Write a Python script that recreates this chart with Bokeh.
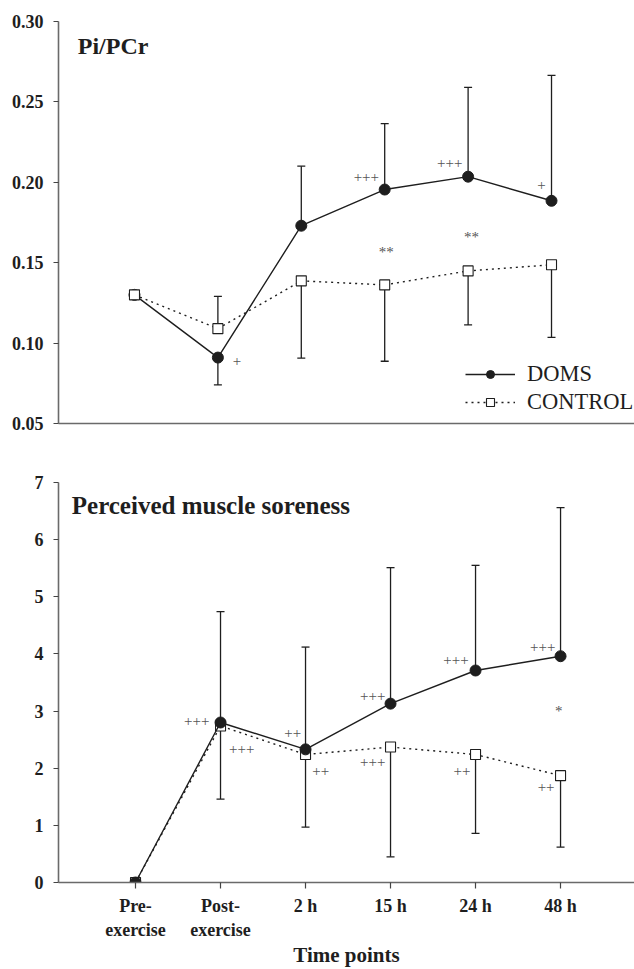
from bokeh.plotting import figure
from bokeh.models import (Range1d, FixedTicker, Whisker, TeeHead, Legend, LegendItem,
                          ColumnDataSource, PrintfTickFormatter)
from bokeh.layouts import column
from bokeh.core.properties import value
from bokeh.embed import file_html
from bokeh.resources import INLINE

# ---------------- data ----------------
time_labels = ["Pre-\nexercise", "Post-\nexercise", "2 h", "15 h", "24 h", "48 h"]

pcr_doms = [0.130, 0.091, 0.173, 0.1955, 0.2035, 0.1885]
pcr_doms_sd = [0.0, 0.017, 0.037, 0.041, 0.0555, 0.078]
pcr_doms_dir = [1, -1, 1, 1, 1, 1]
pcr_ctrl = [0.130, 0.109, 0.1387, 0.1362, 0.1449, 0.1487]
pcr_ctrl_sd = [0.0, 0.020, 0.048, 0.0475, 0.0336, 0.0451]
pcr_ctrl_dir = [-1, 1, -1, -1, -1, -1]

sore_doms = [0.0, 2.80, 2.33, 3.13, 3.71, 3.96]
sore_doms_sd = [0.0, 1.94, 1.79, 2.38, 1.84, 2.60]
sore_doms_dir = [1, 1, 1, 1, 1, 1]
sore_ctrl = [0.0, 2.74, 2.24, 2.37, 2.24, 1.87]
sore_ctrl_sd = [0.0, 1.28, 1.27, 1.92, 1.38, 1.25]
sore_ctrl_dir = [-1, -1, -1, -1, -1, -1]

pcr_marks = ["+", "+++", "+++", "+", "**", "**"]
pcr_marks_x = [2.23, 3.78, 4.78, 5.88, 4.02, 5.04]
pcr_marks_y = [0.0887, 0.2032, 0.2117, 0.1984, 0.1565, 0.1658]

sore_marks = ["+++", "+++", "++", "++", "+++", "+++", "+++", "++", "+++", "++", "*"]
sore_marks_x = [1.72, 2.25, 2.85, 3.18, 3.79, 3.79, 4.77, 4.84, 5.79, 5.83, 5.98]
sore_marks_y = [2.83, 2.34, 2.61, 1.96, 3.26, 2.11, 3.90, 1.96, 4.13, 1.67, 3.00]

pcr_yticks = [0.05, 0.10, 0.15, 0.20, 0.25, 0.30]
sore_yticks = [0, 1, 2, 3, 4, 5, 6, 7]

FONT = "Liberation Serif"
INK = "#1e1e1e"
xs = [i + 1 for i in range(len(time_labels))]


def style_axes(p):
    for ax in (p.xaxis[0], p.yaxis[0]):
        ax.axis_line_color = "#6a6a6a"
        ax.axis_line_width = 1.6
        ax.major_tick_line_color = "#444444"
        ax.major_tick_line_width = 1.2
        ax.major_tick_out = 5
        ax.major_tick_in = 0
        ax.minor_tick_line_color = None
        ax.major_label_text_font = FONT
        ax.major_label_text_font_style = "bold"
        ax.major_label_text_font_size = "18px"
        ax.major_label_text_color = INK
    p.yaxis[0].major_label_standoff = 10
    p.grid.visible = False
    p.outline_line_color = None


def add_errors(p, means, sds, dirs):
    up = [(x, m, m + s) for x, m, s, d in zip(xs, means, sds, dirs) if s > 0 and d > 0]
    dn = [(x, m - s, m) for x, m, s, d in zip(xs, means, sds, dirs) if s > 0 and d < 0]
    if up:
        src = ColumnDataSource(dict(x=[u[0] for u in up], lo=[u[1] for u in up], hi=[u[2] for u in up]))
        p.add_layout(Whisker(source=src, base="x", lower="lo", upper="hi", line_color=INK, line_width=1.3,
                             upper_head=TeeHead(size=8, line_color=INK, line_width=1.3), lower_head=None))
    if dn:
        src = ColumnDataSource(dict(x=[u[0] for u in dn], lo=[u[1] for u in dn], hi=[u[2] for u in dn]))
        p.add_layout(Whisker(source=src, base="x", lower="lo", upper="hi", line_color=INK, line_width=1.3,
                             lower_head=TeeHead(size=8, line_color=INK, line_width=1.3), upper_head=None))


def draw_doms(p, means):
    l = p.line(xs, means, line_color=INK, line_width=1.4)
    c = p.scatter(xs, means, marker="circle", size=11, fill_color=INK, line_color=INK)
    return l, c


def draw_ctrl(p, means):
    l = p.line(xs, means, line_color=INK, line_width=1.4, line_dash="2 4")
    s = p.scatter(xs, means, marker="square", size=10, fill_color="white", line_color=INK, line_width=1.1)
    return l, s


def add_marks(p, texts, mx, my):
    p.text(x=mx, y=my, text=texts, text_font=value(FONT), text_font_size="15px", text_color="#555555",
           text_align="center", text_baseline="middle")


# ---------------- top panel ----------------
p1 = figure(width=634, height=448, output_backend="svg", toolbar_location=None,
            x_range=Range1d(0.089, 6.995), y_range=Range1d(0.05, 0.30),
            min_border_left=58, min_border_right=0, min_border_top=21, min_border_bottom=25)
style_axes(p1)
p1.xaxis[0].ticker = FixedTicker(ticks=[])
p1.yaxis[0].ticker = FixedTicker(ticks=pcr_yticks)
p1.yaxis[0].formatter = PrintfTickFormatter(format="%.2f")

add_errors(p1, pcr_doms, pcr_doms_sd, pcr_doms_dir)
add_errors(p1, pcr_ctrl, pcr_ctrl_sd, pcr_ctrl_dir)
dl, dc = draw_doms(p1, pcr_doms)
cl, cs = draw_ctrl(p1, pcr_ctrl)
add_marks(p1, pcr_marks, pcr_marks_x, pcr_marks_y)
p1.text(x=[0.32], y=[0.2845], text=["Pi/PCr"], text_font=value(FONT), text_font_style="bold",
        text_font_size="24px", text_color=INK, text_align="left", text_baseline="middle")

legend = Legend(items=[LegendItem(label="DOMS", renderers=[dl, dc]),
                       LegendItem(label="CONTROL", renderers=[cl, cs])],
                location=(407, 8), glyph_width=50, glyph_height=20, label_standoff=12,
                padding=0, margin=0, spacing=2, border_line_color=None, background_fill_alpha=0,
                label_text_font=FONT, label_text_font_size="22.5px", label_text_color=INK)
p1.add_layout(legend)

# ---------------- bottom panel ----------------
p2 = figure(width=634, height=521, output_backend="svg", toolbar_location=None,
            x_range=Range1d(0.094, 6.87), y_range=Range1d(0, 7),
            min_border_left=58, min_border_right=0, min_border_top=34, min_border_bottom=85)
style_axes(p2)
p2.xaxis[0].ticker = FixedTicker(ticks=xs)
p2.xaxis[0].major_label_overrides = {x: t for x, t in zip(xs, time_labels)}
p2.xaxis[0].major_tick_out = 6
p2.xaxis[0].major_label_standoff = 7
p2.yaxis[0].ticker = FixedTicker(ticks=sore_yticks)
p2.xaxis[0].axis_label = "Time points"
p2.xaxis[0].axis_label_text_font = FONT
p2.xaxis[0].axis_label_text_font_style = "bold"
p2.xaxis[0].axis_label_text_font_size = "21px"
p2.xaxis[0].axis_label_text_color = INK
p2.xaxis[0].axis_label_standoff = 0

add_errors(p2, sore_doms, sore_doms_sd, sore_doms_dir)
add_errors(p2, sore_ctrl, sore_ctrl_sd, sore_ctrl_dir)
draw_ctrl(p2, sore_ctrl)
draw_doms(p2, sore_doms)
add_marks(p2, sore_marks, sore_marks_x, sore_marks_y)
p2.text(x=[0.25], y=[6.59], text=["Perceived muscle soreness"], text_font=value(FONT),
        text_font_style="bold", text_font_size="25px", text_color=INK,
        text_align="left", text_baseline="middle")

layout = column(p1, p2, spacing=0)
open("out.html", "w").write(file_html(layout, INLINE))
